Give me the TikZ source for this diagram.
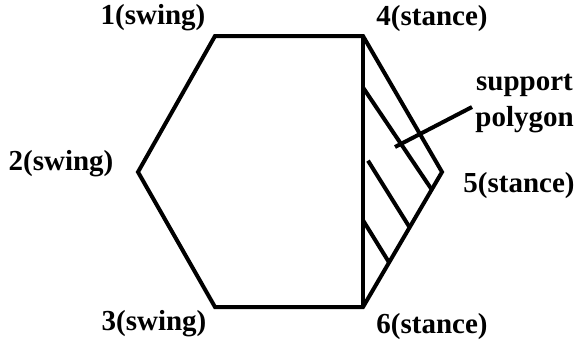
\documentclass[tikz,border=0pt]{standalone}
\usepackage{fontspec}
\setmainfont{Liberation Serif}
\usetikzlibrary{calc}

\begin{document}
\begin{tikzpicture}[x=0.5bp, y=-0.5bp,
    edge/.style={line width=2bp},
    lbl/.style={font=\fontsize{14.5bp}{18bp}\selectfont\bfseries, inner sep=0pt}
]
    \useasboundingbox (0,0) rectangle (578,347);
    % hexagon corners (legs)
    \foreach \i/\x/\y in {1/215/36, 2/138/172, 3/215/307, 4/363/36, 5/442/172, 6/363/307} {
        \coordinate (v\i) at (\x,\y);
    }
    \draw[edge] (v1) -- (v4) -- (v5) -- (v6) -- (v3) -- (v2) -- cycle;
    \draw[edge] (v4) -- (v6);
    % hatching of the support polygon
    \draw[edge] ($(v4)!0.19!(v6)$) -- ($(v5)!0.13!(v6)$);
    \draw[edge] ($(v4)!0.46!(v6)+(5,0)$) -- ($(v5)!0.41!(v6)$);
    \draw[edge] ($(v4)!0.68!(v6)$) -- ($(v5)!0.67!(v6)$);
    % leg labels
    \node[lbl, anchor=base] (l1) at (153,24) {1(swing)};
    \node[lbl, anchor=base] (l2) at (61,170) {2(swing)};
    \node[lbl, anchor=base] (l3) at (154,330) {3(swing)};
    \node[lbl, anchor=base] (l4) at (432,25) {4(stance)};
    \node[lbl, anchor=base] (l5) at (519,192) {5(stance)};
    \node[lbl, anchor=base] (l6) at (432,333) {6(stance)};
    % support polygon label
    \node[lbl, anchor=west, align=center] (sp) at (475,104) {support\\polygon};
    \coordinate (foot) at (395,147);
    \draw[edge] (foot) -- ([xshift=-1.5bp, yshift=-1.5bp]sp.west);
\end{tikzpicture}
\end{document}
